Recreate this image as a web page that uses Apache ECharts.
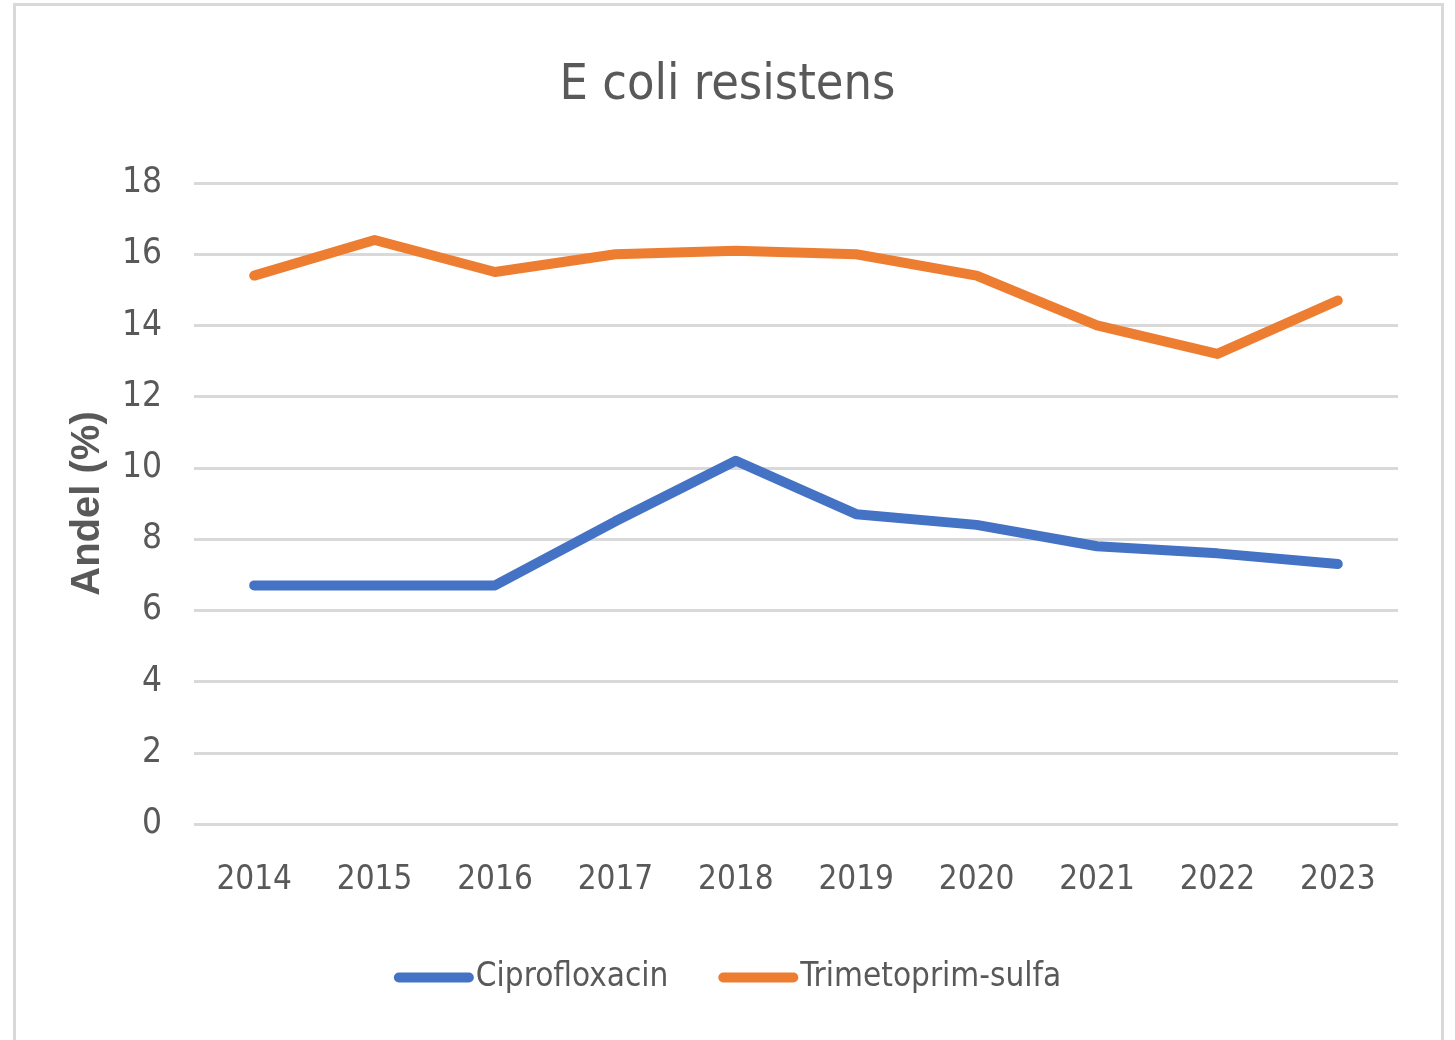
<!DOCTYPE html>
<html>
<head>
<meta charset="utf-8">
<script src="https://cdn.jsdelivr.net/npm/echarts@6/dist/echarts.min.js"></script>
<style>
html,body{margin:0;padding:0;background:#fff;width:1455px;height:1040px;overflow:hidden;}
#frame{position:absolute;left:13px;top:3px;width:1431px;height:1060px;border:3px solid #d9d9d9;box-sizing:border-box;}
#chart{position:absolute;left:0;top:0;width:1455px;height:1040px;}
</style>
</head>
<body>
<div id="frame"></div>
<div id="chart"></div>
<script>
const years = ['2014','2015','2016','2017','2018','2019','2020','2021','2022','2023'];
const ciprofloxacin = [6.7, 6.7, 6.7, 8.5, 10.2, 8.7, 8.4, 7.8, 7.6, 7.3];
const trimetoprimSulfa = [15.4, 16.4, 15.5, 16.0, 16.1, 16.0, 15.4, 14.0, 13.2, 14.7];
const yTicks = {min: 0, max: 18, interval: 2};

const narrow = '"Liberation Sans Narrow", "DejaVu Sans Condensed", sans-serif';
const chart = echarts.init(document.getElementById('chart'), null, {renderer: 'canvas'});
chart.setOption({
  backgroundColor: 'transparent',
  animation: false,
  title: {
    text: 'E coli resistens',
    left: 'center',
    top: 56,
    textStyle: {fontFamily: narrow, fontSize: 50, fontWeight: 'normal', color: '#595959'}
  },
  legend: {
    bottom: 41,
    left: 'center',
    itemWidth: 80,
    itemHeight: 10,
    itemGap: 50,
    icon: 'path://M5,0 H75 A5,5 0 0 1 75,10 H5 A5,5 0 0 1 5,0 Z',
    textStyle: {fontFamily: narrow, fontSize: 33, color: '#595959', padding: [0,0,0,-3]}
  },
  grid: {left: 194, right: 57, top: 183, bottom: 216, containLabel: false},
  xAxis: {
    type: 'category',
    data: years,
    boundaryGap: true,
    axisLine: {show: false},
    axisTick: {show: false},
    axisLabel: {fontFamily: narrow, fontSize: 33, color: '#595959', margin: 40}
  },
  yAxis: {
    type: 'value',
    min: yTicks.min, max: yTicks.max, interval: yTicks.interval,
    name: 'Andel (%)',
    nameLocation: 'middle',
    nameGap: 86,
    nameTextStyle: {fontFamily: '"Liberation Sans", Arial, sans-serif', fontSize: 40, fontWeight: 'bold', color: '#595959'},
    axisLine: {show: false},
    axisTick: {show: false},
    splitLine: {lineStyle: {color: '#d9d9d9', width: 3}},
    axisLabel: {fontFamily: narrow, fontSize: 35, color: '#595959', margin: 32}
  },
  series: [
    {name: 'Ciprofloxacin', type: 'line', data: ciprofloxacin, showSymbol: false, symbol: 'none',
     lineStyle: {color: '#4472C4', width: 10, cap: 'round', join: 'round'}, itemStyle: {color: '#4472C4'}},
    {name: 'Trimetoprim-sulfa', type: 'line', data: trimetoprimSulfa, showSymbol: false, symbol: 'none',
     lineStyle: {color: '#ED7D31', width: 10, cap: 'round', join: 'round'}, itemStyle: {color: '#ED7D31'}}
  ]
});
</script>
</body>
</html>
